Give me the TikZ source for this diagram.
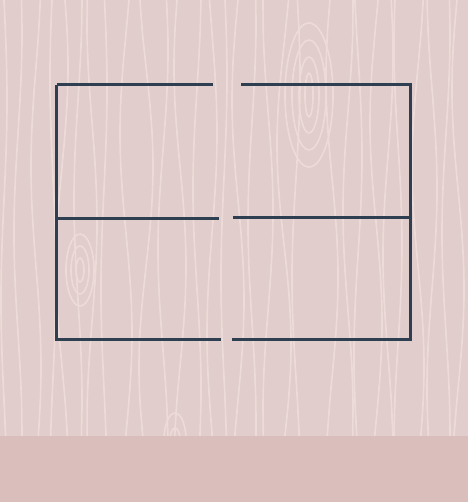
\documentclass[tikz,border=0pt]{standalone}
\usepackage{xcolor}
\usepackage{tikz}
\usetikzlibrary{calc}

\definecolor{woodbg}{HTML}{E1CDCB}
\definecolor{floorc}{HTML}{D9BEBB}
\definecolor{grainc}{HTML}{ECDBD8}
\definecolor{wallc}{HTML}{2E3F52}

\begin{document}
\begin{tikzpicture}[
  x=1pt, y=-1pt,
  wall/.style={draw=wallc, line width=3pt},
  grain/.style={draw=grainc, line width=1.7pt},
]
% background
\fill[woodbg] (0,0) rectangle (468,502);
\useasboundingbox (0,0) rectangle (468,502);

% wood grain
\foreach \gx/\amp/\ph in {4/3/0, 18/4/60, 36/5/120, 53/3/200, 62/6/30, 78/4/90,
  92/5/250, 104/3/10, 126/6/150, 146/7/300, 163/5/45, 180/6/210, 197/4/100,
  212/5/330, 224/3/20, 238/6/180, 252/4/70, 268/5/260, 284/7/140, 296/4/20,
  332/6/200, 348/5/80, 358/4/310, 376/6/160, 388/5/40, 398/4/230, 418/6/120,
  432/5/280, 446/4/60, 458/6/190} {
  \draw[grain] plot[smooth, variable=\t, domain=0:436, samples=14]
    ({\gx+\amp*sin(\t*0.9+\ph)}, \t);
}
% knots
\foreach \rx/\ry in {4/22, 10/38, 17/55, 24/72} {
  \draw[grain] (309,95) ellipse [x radius=\rx, y radius=\ry];
}
\foreach \rx/\ry in {4/12, 9/24, 14/36} {
  \draw[grain] (80,270) ellipse [x radius=\rx, y radius=\ry];
}
\foreach \rx/\ry in {5/12, 11/27} {
  \draw[grain] (175,440) ellipse [x radius=\rx, y radius=\ry];
}

% floor band
\fill[floorc] (0,435.7) rectangle (468,502);

% outline points
\coordinate (tla) at (57,84.3);
\coordinate (tlb) at (213,84.3);
\coordinate (tra) at (241,84.3);
\coordinate (trb) at (411.5,84.3);
\coordinate (lt) at (56.5,85);
\coordinate (lb) at (56.5,340.5);
\coordinate (rt) at (410.5,85);
\coordinate (rb) at (410.5,340.5);
\coordinate (mla) at (57,218.3);
\coordinate (mlb) at (219,218.3);
\coordinate (mra) at (233,217.3);
\coordinate (mrb) at (410,217.3);
\coordinate (bla) at (57,339.3);
\coordinate (blb) at (221,339.3);
\coordinate (bra) at (232,339.3);
\coordinate (brb) at (411.5,339.3);

% walls
\draw[wall] (tla) -- (tlb);
\draw[wall] (tra) -- (trb);
\draw[wall] (lt) -- (lb);
\draw[wall] (rt) -- (rb);
\draw[wall] (mla) -- (mlb);
\draw[wall] (mra) -- (mrb);
\draw[wall] (bla) -- (blb);
\draw[wall] (bra) -- (brb);
\end{tikzpicture}
\end{document}
